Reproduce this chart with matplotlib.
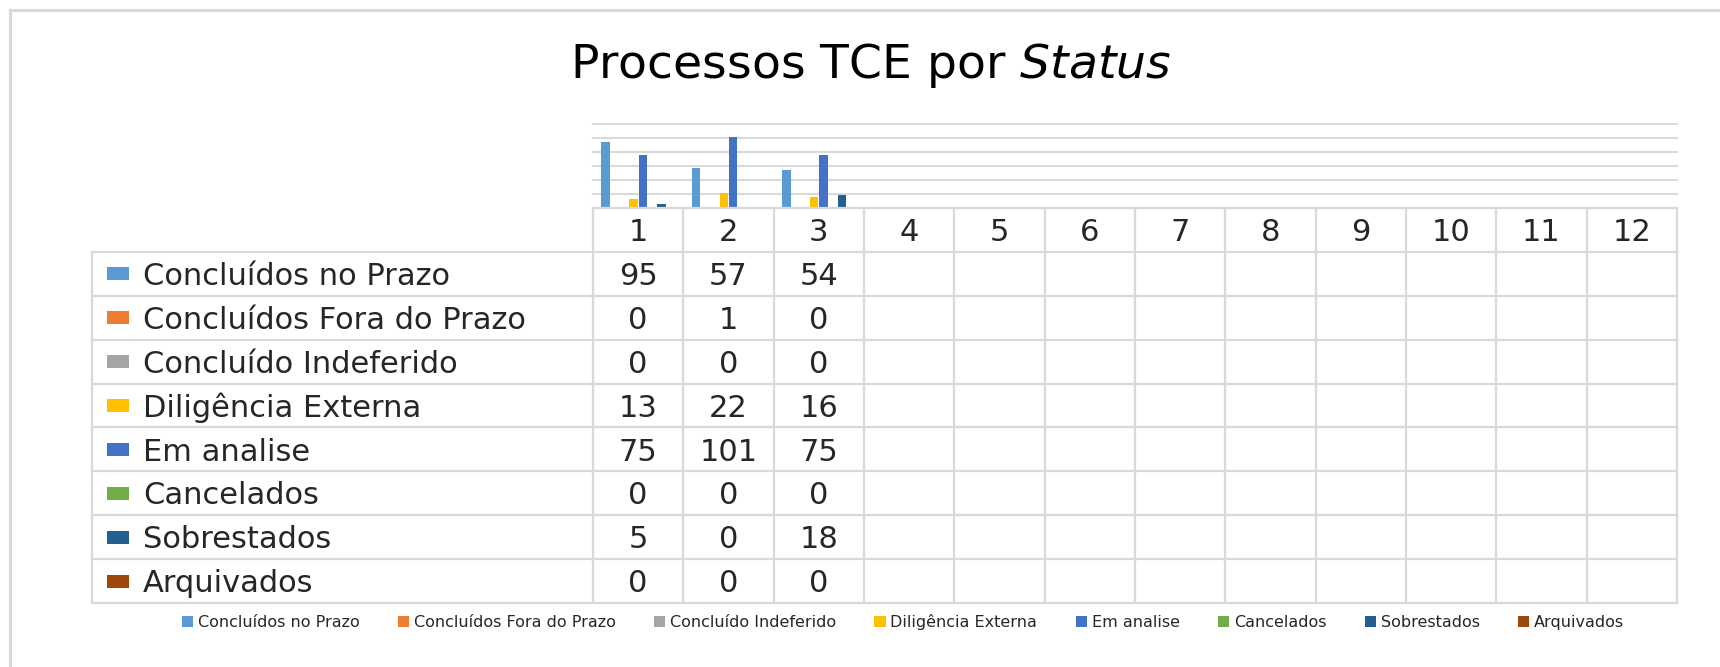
import matplotlib
matplotlib.use("Agg")
import matplotlib.pyplot as plt
from matplotlib.patches import Patch, Rectangle

W, H = 1720, 667

months = [str(m) for m in range(1, 13)]

series = [
    "Concluídos no Prazo",
    "Concluídos Fora do Prazo",
    "Concluído Indeferido",
    "Diligência Externa",
    "Em analise",
    "Cancelados",
    "Sobrestados",
    "Arquivados",
]
colors = ["#5b9bd5", "#ed7d31", "#a5a5a5", "#ffc000",
          "#4472c4", "#70ad47", "#255e91", "#9e480e"]

# values for months 1..3 (the remaining months are empty)
concluidos_prazo = [95, 57, 54]
concluidos_fora = [0, 1, 0]
concluido_indeferido = [0, 0, 0]
diligencia_externa = [13, 22, 16]
em_analise = [75, 101, 75]
cancelados = [0, 0, 0]
sobrestados = [5, 0, 18]
arquivados = [0, 0, 0]

values = [concluidos_prazo, concluidos_fora, concluido_indeferido,
          diligencia_externa, em_analise, cancelados, sobrestados, arquivados]

GRID = "#d9d9d9"
TXT = "#262626"


def px_box(x0, y0, x1, y1):
    return [x0 / W, 1 - y1 / H, (x1 - x0) / W, (y1 - y0) / H]


def main() -> None:
    plt.rcParams["font.family"] = ["DejaVu Sans"]
    plt.rcParams["mathtext.fontset"] = "dejavusans"

    fig = plt.figure(figsize=(W / 100, H / 100), dpi=100)

    # outer chart-area border (left and top visible)
    fig.add_artist(Rectangle((10 / W, -0.1), 2, 1 - 10 / H + 0.1,
                             transform=fig.transFigure, fill=False,
                             edgecolor=GRID, lw=2.2))

    fig.text(871 / W, 1 - 78 / H, r"Processos TCE por $\mathit{Status}$",
             ha="center", va="baseline", fontsize=34, color="black")

    # bars
    ax = fig.add_axes(px_box(593, 124, 1677, 208))
    n = len(series)
    step = 0.103
    for i, (name, vals, col) in enumerate(zip(series, values, colors)):
        xs = [m + (i - (n - 1) / 2) * step for m in range(1, len(vals) + 1)]
        ax.bar(xs, vals, width=0.095, color=col, linewidth=0, zorder=3)
    ax.set_xlim(0.5, len(months) + 0.5)
    ax.set_ylim(0, 120)
    for v in range(0, 121, 20):
        ax.axhline(v, color=GRID, lw=1.5, clip_on=False, zorder=1)
    ax.set_xticks([])
    ax.set_yticks([])
    for s in ax.spines.values():
        s.set_visible(False)
    ax.patch.set_alpha(0)

    # data table
    tab = fig.add_axes(px_box(92, 208, 1677, 603))
    col_w = (1677 - 593) / len(months)
    left = 0.5 - (593 - 92) / col_w
    right = len(months) + 0.5
    nrows = len(series) + 1
    tab.set_xlim(left, right)
    tab.set_ylim(nrows, 0)
    tab.axis("off")
    row_h = (603 - 208) / nrows

    line_kw = dict(color=GRID, lw=1.6, clip_on=False, solid_capstyle="projecting")
    tab.plot([0.5, right], [0, 0], **line_kw)
    for r in range(1, nrows + 1):
        tab.plot([left, right], [r, r], **line_kw)
    for k in range(len(months) + 1):
        tab.plot([0.5 + k] * 2, [0, nrows], **line_kw)
    tab.plot([left, left], [1, nrows], **line_kw)

    fs = 22
    cap = 0.729 * fs * 100 / 72 / row_h  # cap height in row units

    for j, m in enumerate(months):
        tab.text(j + 1, 0.5 + cap / 2, m, ha="center", va="baseline",
                 fontsize=fs, color=TXT)

    for i, (name, vals, col) in enumerate(zip(series, values, colors)):
        yc = i + 1.5
        sq_w, sq_h = 22 / col_w, 13 / row_h
        tab.add_patch(Rectangle((left + 15 / col_w, yc - sq_h / 2), sq_w, sq_h,
                                facecolor=col, edgecolor="none"))
        tab.text(left + 51 / col_w, yc + cap / 2, name, ha="left", va="baseline",
                 fontsize=fs, color=TXT)
        for j, v in enumerate(vals):
            tab.text(j + 1, yc + cap / 2, str(v), ha="center", va="baseline",
                     fontsize=fs, color=TXT)

    handles = [Patch(facecolor=c, edgecolor="none", label=s)
               for s, c in zip(series, colors)]
    fig.legend(handles=handles, loc="center", bbox_to_anchor=(903 / W, 1 - 622 / H),
               ncol=len(series), frameon=False, fontsize=11.5,
               handlelength=0.7, handleheight=0.7, handletextpad=0.3,
               columnspacing=2.4, borderpad=0, labelcolor=TXT)

    fig.savefig("out.png", dpi=100)
    plt.close(fig)


if __name__ == "__main__":
    main()
